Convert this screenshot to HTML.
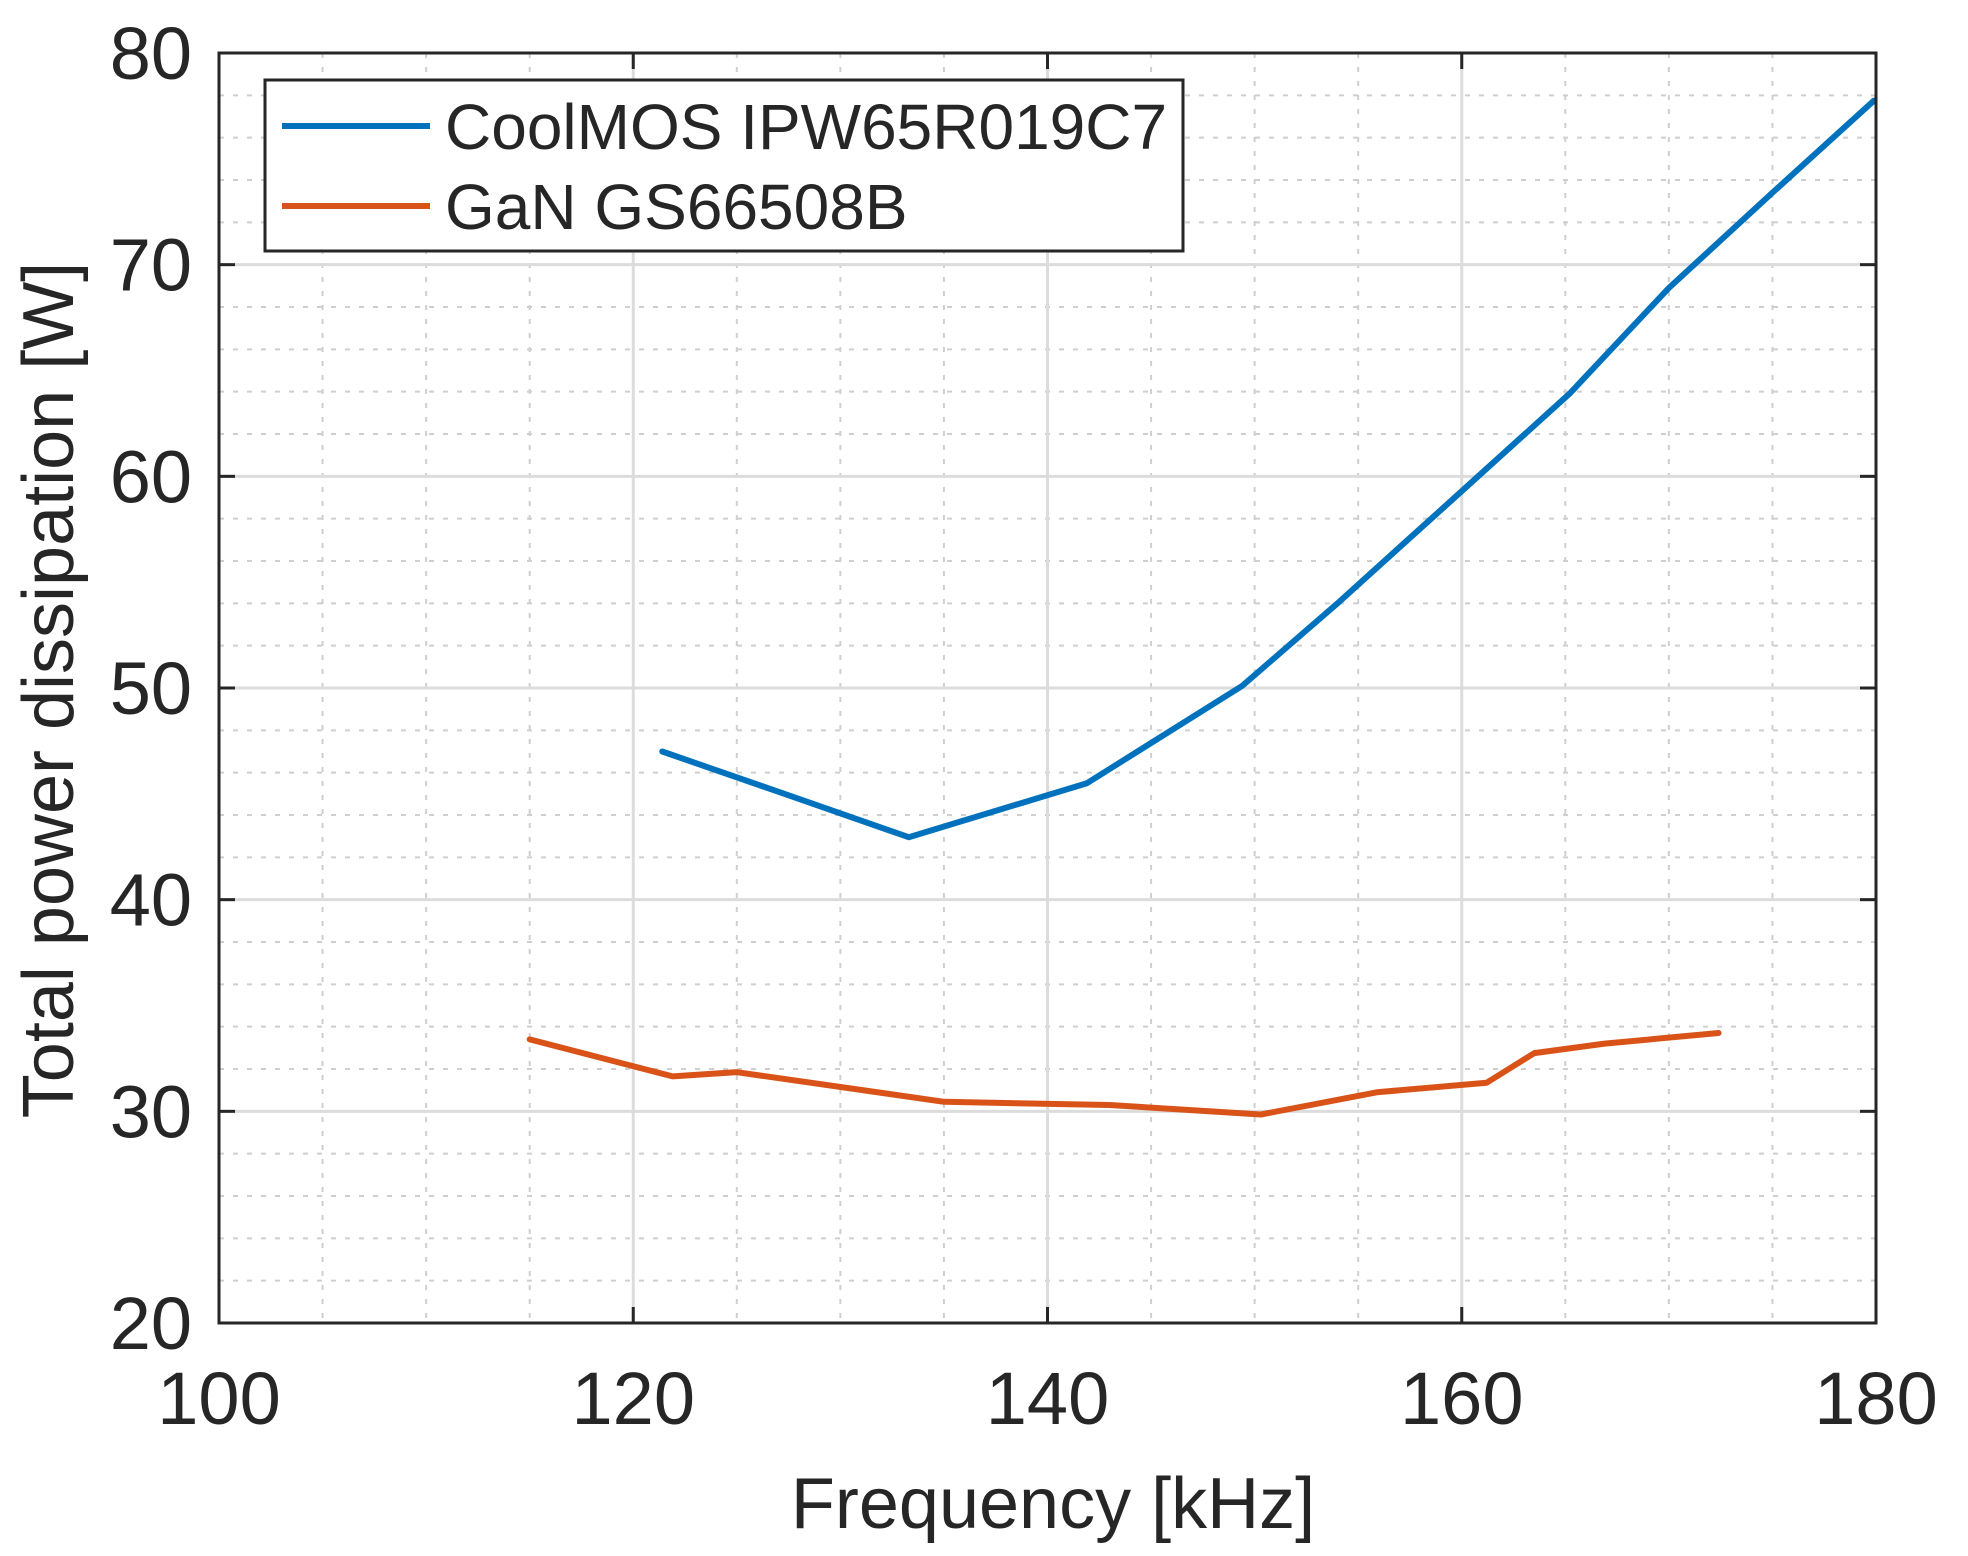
<!DOCTYPE html>
<html><head><meta charset="utf-8"><style>
html,body{margin:0;padding:0;background:#fff;}
svg{display:block;font-family:"Liberation Sans",Arial,sans-serif;}
</style></head><body>
<svg width="1968" height="1556" viewBox="0 0 1968 1556" xmlns="http://www.w3.org/2000/svg">
<rect width="1968" height="1556" fill="#fff"/>
<g id="minor" stroke="#cfcfcf" stroke-width="2" stroke-dasharray="5,9">
</g>
<g id="major" stroke="#dcdcdc" stroke-width="3"></g>
<g id="series" fill="none" stroke-width="6" stroke-linejoin="round" stroke-linecap="round"></g>
<rect x="219" y="53" width="1657" height="1270" fill="none" stroke="#262626" stroke-width="3"/>
<g id="ticks" stroke="#262626" stroke-width="3"></g>
<g id="labels" fill="#262626" font-size="60"></g>
<rect x="265" y="80" width="918" height="171" fill="#fff" stroke="#262626" stroke-width="3"/>
<line x1="282" y1="126" x2="430" y2="126" stroke="#0072BD" stroke-width="6"/>
<line x1="282" y1="206" x2="430" y2="206" stroke="#D95319" stroke-width="6"/>
<text x="445" y="149" font-size="64" fill="#262626">CoolMOS IPW65R019C7</text>
<text x="445" y="229" font-size="64" fill="#262626">GaN GS66508B</text>
<text x="1053" y="1528" font-size="72" fill="#262626" text-anchor="middle">Frequency [kHz]</text>
<text transform="translate(73,690) rotate(-90)" font-size="72" fill="#262626" text-anchor="middle">Total power dissipation [W]</text>
<script>
(function(){
var NS="http://www.w3.org/2000/svg";
function X(f){return 219+(f-100)*1657/80;}
function Y(w){return 1323-(w-20)*1270/60;}
function el(p,t,a){var e=document.createElementNS(NS,t);for(var k in a)e.setAttribute(k,a[k]);document.getElementById(p).appendChild(e);return e;}
for(var f=105;f<180;f+=5){if(f%20)el("minor","line",{x1:X(f),y1:53,x2:X(f),y2:1323});}
for(var w=22;w<80;w+=2){if(w%10)el("minor","line",{x1:219,y1:Y(w),x2:1876,y2:Y(w)});}
for(var f=120;f<180;f+=20)el("major","line",{x1:X(f),y1:53,x2:X(f),y2:1323});
for(var w=30;w<80;w+=10)el("major","line",{x1:219,y1:Y(w),x2:1876,y2:Y(w)});
for(var f=100;f<=180;f+=20){el("ticks","line",{x1:X(f),y1:1323,x2:X(f),y2:1307});el("ticks","line",{x1:X(f),y1:53,x2:X(f),y2:69});
 var t=el("labels","text",{x:X(f),y:1424,"text-anchor":"middle","font-size":"74"});t.textContent=f;}
for(var w=20;w<=80;w+=10){el("ticks","line",{x1:219,y1:Y(w),x2:235,y2:Y(w)});el("ticks","line",{x1:1876,y1:Y(w),x2:1860,y2:Y(w)});
 var t=el("labels","text",{x:192,y:Y(w)+26,"text-anchor":"end","font-size":"74"});t.textContent=w;}
function pl(d,c){el("series","polyline",{points:d.map(function(p){return X(p[0])+","+Y(p[1]);}).join(" "),stroke:c});}
pl([[121.4,47.0],[127,45.1],[133.3,42.95],[141.9,45.5],[149.4,50.1],[154,54],[160,59.3],[165.2,63.9],[170,68.9],[175,73.4],[179.9,77.75]],"#0072BD");
pl([[115,33.4],[121.9,31.65],[125,31.85],[135,30.45],[143,30.3],[150.3,29.85],[155.9,30.9],[161.2,31.35],[163.5,32.75],[166.9,33.2],[172.4,33.7]],"#D95319");
})();
</script>
</svg>
</body></html>
